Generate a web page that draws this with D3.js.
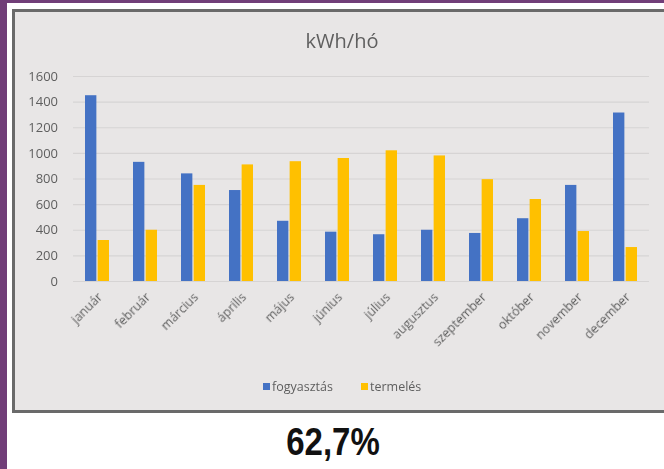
<!DOCTYPE html>
<html>
<head>
<meta charset="utf-8">
<script src="https://cdn.jsdelivr.net/npm/d3@7"></script>
<style>
  html, body { margin: 0; padding: 0; background: #ffffff; }
  svg { display: block; }
</style>
</head>
<body>
<svg id="chart" width="664" height="469"></svg>
<script>
const months = ["január","február","március","április","május","június","július","augusztus","szeptember","október","november","december"];
const seriesNames = ["fogyasztás","termelés"];
const fogyasztas = [1450, 930, 840, 710, 470, 385, 365, 400, 375, 490, 750, 1315];
const termeles = [320, 400, 750, 910, 935, 960, 1020, 980, 795, 640, 390, 265];
const yTicks = [0, 200, 400, 600, 800, 1000, 1200, 1400, 1600];
const seriesColors = ["#4472c4", "#ffc000"];
const titleText = "kWh/hó";
const bigText = "62,7%";

const svg = d3.select("#chart");
const purple = "#713e78";

// frame
svg.append("rect").attr("x",0).attr("y",0).attr("width",664).attr("height",3).attr("fill",purple);
svg.append("rect").attr("x",0).attr("y",0).attr("width",7).attr("height",469).attr("fill",purple);

const defs = svg.append("defs");
defs.append("filter").attr("id","blur").append("feGaussianBlur").attr("stdDeviation",0.7);
defs.append("filter").attr("id","soft").append("feGaussianBlur").attr("stdDeviation",0.35);

svg.append("rect").attr("x",13.5).attr("y",10.5).attr("width",700).attr("height",401)
  .attr("fill","#e8e6e6").attr("stroke","#6a6a6a").attr("stroke-width",3).attr("filter","url(#blur)");

const plot = {left:73, right:649, top:76, bottom:281};
const y = d3.scaleLinear().domain([0,1600]).range([plot.bottom, plot.top]);
const x0 = d3.scaleBand().domain(months).range([plot.left, plot.right]).paddingInner(0.5).paddingOuter(0.25);
const x1 = d3.scaleBand().domain(seriesNames).range([0, x0.bandwidth()]).paddingInner(0.1);

const font = "'Open Sans', sans-serif";
const textCol = "#5f5f5f";

// gridlines
const yAxis = d3.axisLeft(y).tickValues(yTicks).tickFormat(d3.format("d")).tickSize(-(plot.right - plot.left)).tickPadding(15);
const gy = svg.append("g").attr("transform",`translate(${plot.left},0)`).call(yAxis);
gy.select(".domain").remove();
gy.selectAll(".tick line").attr("stroke","#d6d4d4").attr("stroke-width",1.2);
gy.selectAll(".tick text").attr("fill",textCol).attr("font-family",font).attr("font-size",13).attr("x",-15)
  .attr("filter","url(#soft)");

// title
svg.append("text").attr("x",342).attr("y",48).attr("text-anchor","middle")
  .attr("font-family",font).attr("font-size",20).attr("fill",textCol).attr("filter","url(#soft)").text(titleText);

// bars
const data = months.map((m,i)=>({month:m, values:[{s:seriesNames[0], v:fogyasztas[i]},{s:seriesNames[1], v:termeles[i]}]}));
const color = d3.scaleOrdinal().domain(seriesNames).range(seriesColors);
const groups = svg.append("g").selectAll("g").data(data).join("g")
  .attr("transform", d=>`translate(${x0(d.month)},0)`);
groups.selectAll("rect").data(d=>d.values).join("rect")
  .attr("x", d=>x1(d.s)).attr("width", x1.bandwidth())
  .attr("y", d=>y(d.v)).attr("height", d=>y(0)-y(d.v))
  .attr("fill", d=>color(d.s));

// x labels
const xAxis = d3.axisBottom(x0).tickSize(0).tickPadding(0);
const gx = svg.append("g").attr("transform",`translate(0,${plot.bottom})`).call(xAxis);
gx.select(".domain").remove();
gx.selectAll(".tick text")
  .attr("font-family",font).attr("font-size",12.5).attr("fill",textCol)
  .attr("text-anchor","end").attr("dy",0).attr("y",0)
  .attr("filter","url(#soft)")
  .attr("transform","translate(6,17) rotate(-45)");

// legend
const legend = svg.append("g").attr("transform","translate(263,387)");
const legItems = [{s:seriesNames[0], x:0},{s:seriesNames[1], x:98}];
legItems.forEach(it=>{
  legend.append("rect").attr("x",it.x).attr("y",-4).attr("width",7).attr("height",7).attr("fill",color(it.s));
  legend.append("text").attr("x",it.x+9).attr("y",4).attr("font-family",font).attr("font-size",12.5)
    .attr("fill",textCol).attr("filter","url(#soft)").text(it.s);
});

// big text
svg.append("text").attr("text-anchor","middle")
  .attr("transform","translate(333,455) scale(1,1.18)")
  .attr("font-family","'Liberation Sans', Arial, sans-serif").attr("font-weight","bold")
  .attr("font-size",33).attr("fill","#111").text(bigText);
</script>
</body>
</html>
